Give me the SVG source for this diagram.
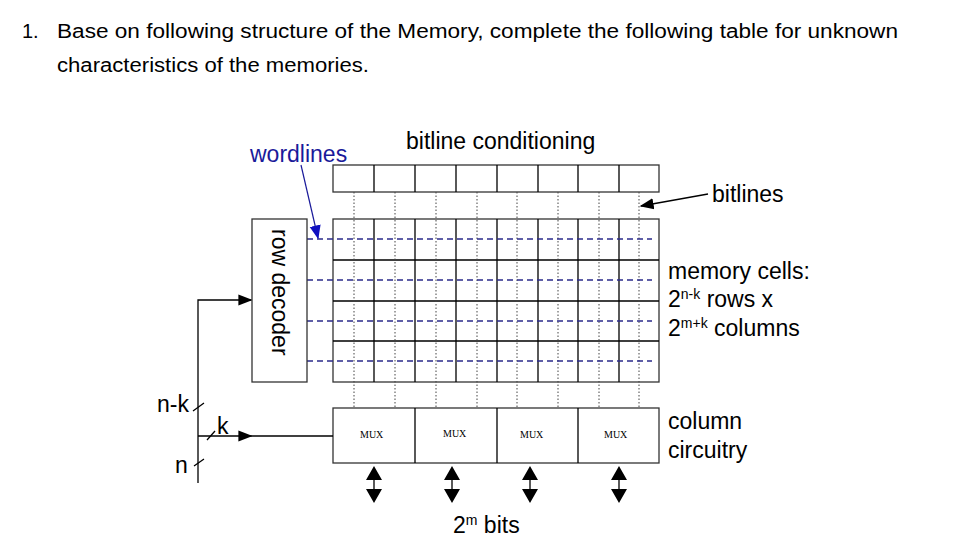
<svg xmlns="http://www.w3.org/2000/svg" width="979" height="559" viewBox="0 0 979 559">
<style>
text{font-family:"Liberation Sans",Arial,sans-serif;fill:#000}
.hd{font-size:20px}
.lb{font-size:23px}
.box{fill:#fff;stroke:#333;stroke-width:1.3}
.dot{stroke:#444;stroke-width:1;stroke-dasharray:1.5,2}
.wl{stroke:#2a2a8a;stroke-width:1.3;stroke-dasharray:6,4}
.ln{stroke:#000;stroke-width:1.3;fill:none}
.mux{font-family:"Liberation Serif",serif;font-size:10px}
</style>
<defs>
<marker id="ah" viewBox="0 0 10 10" refX="9" refY="5" markerWidth="14" markerHeight="14" markerUnits="userSpaceOnUse" orient="auto"><path d="M0,1L10,5L0,9z" fill="#000"/></marker>
<marker id="ab" viewBox="0 0 10 10" refX="9" refY="5" markerWidth="14" markerHeight="14" markerUnits="userSpaceOnUse" orient="auto"><path d="M0,1L10,5L0,9z" fill="#1010c0"/></marker>
</defs>
<rect width="979" height="559" fill="#fff"/>
<text class="hd" x="22" y="38">1.</text>
<text class="hd" x="57" y="38" textLength="841" lengthAdjust="spacingAndGlyphs">Base on following structure of the Memory, complete the following table for unknown</text>
<text class="hd" x="57" y="72" textLength="312" lengthAdjust="spacingAndGlyphs">characteristics of the memories.</text>

<g id="conditioning">
<rect class="box" x="333" y="165" width="326" height="27"/>
<path class="ln" d="M374 165V192M415 165V192M456 165V192M497 165V192M538 165V192M578 165V192M619 165V192"/>
<text class="lb" x="406" y="149">bitline conditioning</text>
</g>
<g id="array">
<rect class="box" x="333" y="219" width="326" height="163"/>
<path class="ln" d="M374 219V382M415 219V382M456 219V382M497 219V382M538 219V382M578 219V382M619 219V382M333 260H659M333 301H659M333 341H659"/>
<path class="dot" d="M354 192V408M395 192V408M436 192V408M477 192V408M517 192V408M558 192V408M599 192V408M639 192V408"/>
<path class="wl" d="M307 239H652M307 280H652M307 321H652M307 361H652"/>
<text class="lb" x="668" y="279">memory cells:</text>
<text class="lb" x="668" y="307">2<tspan font-size="14" dy="-8">n-k</tspan><tspan dy="8"> rows x</tspan></text>
<text class="lb" x="668" y="336">2<tspan font-size="14" dy="-8">m+k</tspan><tspan dy="8"> columns</tspan></text>
</g>
<g id="rowdecoder">
<rect class="box" x="252" y="219" width="55" height="163"/>
<text class="lb" transform="translate(272,229) rotate(90)">row decoder</text>
</g>
<g id="wordlines">
<text class="lb" x="250" y="162" style="fill:#1a1a9a">wordlines</text>
</g>
<g id="bitlines">
<text class="lb" x="712" y="202">bitlines</text>
</g>
<g id="columncircuitry">
<rect class="box" x="333" y="408" width="326" height="55"/>
<path class="ln" d="M415 408V463M497 408V463M578 408V463"/>
<text class="mux" x="360" y="438">MUX</text>
<text class="mux" x="443" y="437">MUX</text>
<text class="mux" x="520" y="438">MUX</text>
<text class="mux" x="604" y="438">MUX</text>
<text class="lb" x="668" y="429">column</text>
<text class="lb" x="668" y="458">circuitry</text>
<text class="lb" x="453" y="533">2<tspan font-size="14" dy="-8">m</tspan><tspan dy="8"> bits</tspan></text>
</g>
<g id="inputs">
<text class="lb" x="157" y="412">n-k</text>
<text class="lb" x="217" y="434">k</text>
<text class="lb" x="175" y="473">n</text>
</g>
<g id="connectors">
<path class="ln" d="M198 483V300H251" marker-end="url(#ah)"/>
<path class="ln" d="M198 436H251"  marker-end="url(#ah)"/>
<path class="ln" d="M251 436H333"/>
<path class="ln" d="M193 411L204 403M207 440L215 431M194 466L204 459"/>
<path d="M301 165L318 238" stroke="#1a1a9a" stroke-width="1.2" marker-end="url(#ab)"/>
<path class="ln" d="M708 194L641 206" marker-end="url(#ah)"/>
<g fill="#000">
<path d="M374 466l-8 14h16zM374 503l-8 -14h16z"/><path class="ln" d="M374 476V494"/>
<path d="M452 466l-8 14h16zM452 503l-8 -14h16z"/><path class="ln" d="M452 476V494"/>
<path d="M530 466l-8 14h16zM530 503l-8 -14h16z"/><path class="ln" d="M530 476V494"/>
<path d="M619 466l-8 14h16zM619 503l-8 -14h16z"/><path class="ln" d="M619 476V494"/>
</g>
</g>
</svg>
